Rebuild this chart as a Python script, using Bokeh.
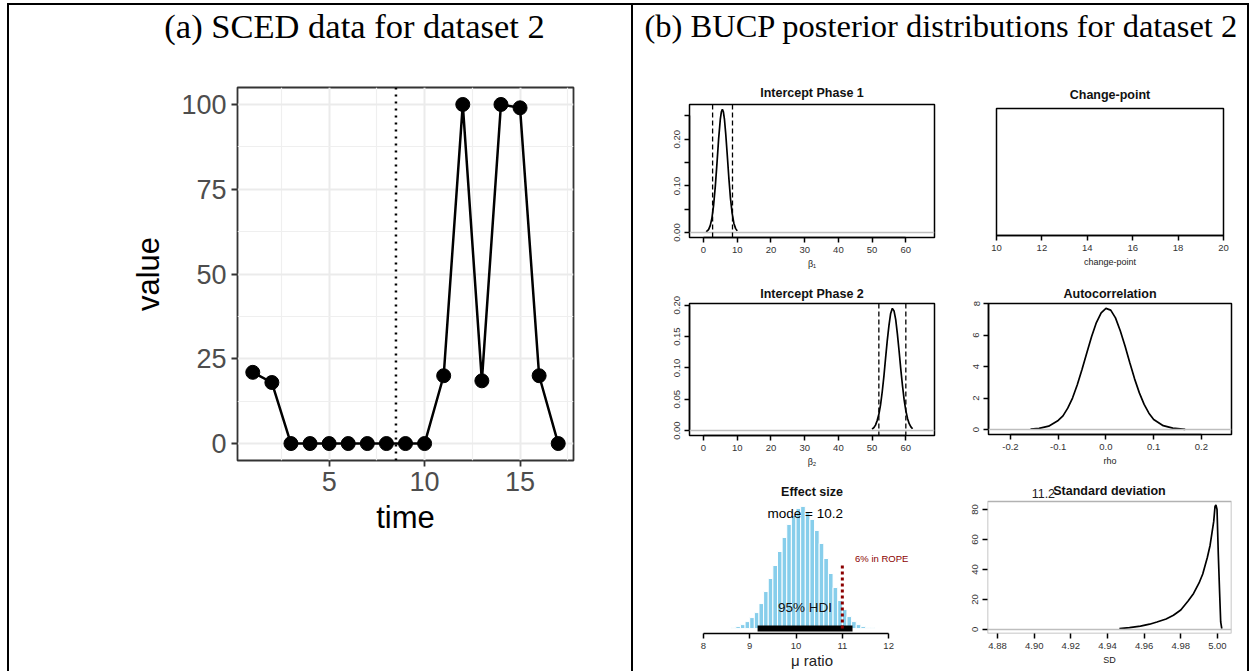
from bokeh.plotting import figure
from bokeh.models import Range1d, FixedTicker, Span, BoxAnnotation, Spacer
from bokeh.layouts import row, column
from bokeh.embed import file_html
from bokeh.resources import INLINE
from bokeh.core.properties import value

SANS = "Liberation Sans"
SERIF = "Liberation Serif"

# ---------------- data ----------------
# (a) SCED data
sced_time = [1, 2, 3, 4, 5, 6, 7, 8, 9, 10, 11, 12, 13, 14, 15, 16, 17]
sced_value = [21, 18, 0, 0, 0, 0, 0, 0, 0, 0, 20, 100, 18.5, 100, 99, 20, 0]
phase_change_time = 8.5
sced_x_ticks = [5, 10, 15]
sced_x_minor = [2.5, 7.5, 12.5, 17.5]
sced_y_ticks = [0, 25, 50, 75, 100]
sced_y_minor = [12.5, 37.5, 62.5, 87.5]

# (b) posterior: Intercept Phase 1
ip1_x = [0.8, 1.5, 2.0, 2.5, 3.0, 3.5, 4.0, 4.5, 5.0, 5.3, 5.6, 5.9, 6.2, 6.6, 7.0, 7.5, 8.0, 8.5, 9.0, 9.5, 10.0]
ip1_y = [0.0016, 0.0063, 0.0148, 0.031, 0.059, 0.099, 0.149, 0.202, 0.244, 0.259, 0.264, 0.259, 0.244,
         0.211, 0.171, 0.119, 0.073, 0.041, 0.020, 0.009, 0.0036]
ip1_hdi = [2.7, 8.6]

# Intercept Phase 2
ip2_x = [50, 50.5, 51, 51.5, 52, 52.5, 53, 53.5, 54, 54.5, 55, 55.5, 56, 56.5, 57, 57.5, 58, 58.5,
         59, 59.5, 60, 60.5, 61, 61.5, 62]
ip2_y = [0.0023, 0.0047, 0.0088, 0.016, 0.026, 0.041, 0.062, 0.087, 0.116, 0.144, 0.168, 0.187, 0.195,
         0.191, 0.177, 0.154, 0.127, 0.098, 0.072, 0.049, 0.032, 0.0195, 0.011, 0.006, 0.003]
ip2_hdi = [52.0, 60.0]
ip_x_ticks = [0, 10, 20, 30, 40, 50, 60]
ip1_y_ticks = [0.0, 0.1, 0.2]
ip1_y_minor = [0.05, 0.15, 0.25]
ip1_y_labels = ["0.00", "0.10", "0.20"]
ip2_y_ticks = [0.0, 0.05, 0.1, 0.15, 0.2]
ip2_y_labels = ["0.00", "0.05", "0.10", "0.15", "0.20"]

# Change-point
cp_ticks = [10, 12, 14, 16, 18, 20]

# Autocorrelation
rho_x = [-0.158, -0.14, -0.12, -0.10, -0.09, -0.08, -0.07, -0.06, -0.05, -0.04, -0.03, -0.02, -0.01,
         0.0, 0.01, 0.02, 0.03, 0.04, 0.05, 0.06, 0.07, 0.08, 0.09, 0.10, 0.12, 0.14, 0.166]
rho_y = [0.03, 0.08, 0.22, 0.58, 0.87, 1.36, 2.0, 2.85, 3.83, 4.88, 5.91, 6.79, 7.41, 7.69, 7.58, 7.09,
         6.27, 5.31, 4.24, 3.22, 2.33, 1.60, 1.04, 0.64, 0.25, 0.09, 0.02]
rho_x_ticks = [-0.2, -0.1, 0.0, 0.1, 0.2]
rho_x_labels = ["-0.2", "-0.1", "0.0", "0.1", "0.2"]
rho_y_ticks = [0, 2, 4, 6, 8]

# Standard deviation
sd_x = [4.9465, 4.952, 4.958, 4.963, 4.967, 4.972, 4.976, 4.980, 4.984, 4.987, 4.990, 4.992, 4.9945,
        4.996, 4.997, 4.998, 4.9987, 4.9992, 4.9998, 5.0005, 5.0012, 5.0018, 5.0024]
sd_y = [0.5, 1.2, 2.2, 3.5, 5.0, 7.0, 9.5, 13, 19, 24, 31, 37, 48, 56, 64, 72, 82, 83, 80, 50, 25, 5, 0.5]
sd_x_ticks = [4.88, 4.90, 4.92, 4.94, 4.96, 4.98, 5.00]
sd_x_labels = ["4.88", "4.90", "4.92", "4.94", "4.96", "4.98", "5.00"]
sd_y_ticks = [0, 20, 40, 60, 80]
sd_hdi_label = "11.2"

# Effect size (histogram of mu ratio)
es_bins = [8.65, 8.75, 8.85, 8.95, 9.05, 9.15, 9.25, 9.35, 9.45, 9.55, 9.65, 9.75, 9.85, 9.95, 10.05,
           10.15, 10.25, 10.35, 10.45, 10.55, 10.65, 10.75, 10.85, 10.95, 11.05, 11.15, 11.25, 11.35,
           11.45, 11.55, 11.65]
es_counts = [1, 2, 4, 7, 11, 16, 25, 37, 50, 63, 77, 91, 104, 113, 120, 122, 117, 109, 98, 85, 70, 55,
             41, 28, 19, 12, 7, 4, 2, 1, 1]
es_mode = 10.2
es_hdi = [9.17, 11.22]
es_rope_line = 11.0
es_rope_pct = 6
es_x_ticks = [8, 9, 10, 11, 12]


# ---------------- helpers ----------------
def title_fig(w, h, text, cx, cy_from_top, size):
    p = figure(width=w, height=h, x_range=Range1d(0, w), y_range=Range1d(0, h),
               output_backend="svg", toolbar_location=None, title=None,
               x_axis_location=None, y_axis_location=None, min_border=0)
    p.frame_align = False
    p.outline_line_color = None
    p.grid.visible = False
    p.text(x=[cx], y=[h - cy_from_top], text=[text], text_font=value(SERIF),
           text_font_size=size, text_align="center", text_baseline="middle", text_color="black")
    return p


def r_fig(w, h, xr, yr, left, right, top, bottom, title, y_axis=True, outline=True, standoff=4):
    p = figure(width=w, height=h, x_range=Range1d(*xr), y_range=Range1d(*yr),
               output_backend="svg", toolbar_location=None, title=title,
               y_axis_location="left" if y_axis else None,
               min_border_left=left, min_border_right=right,
               min_border_top=top, min_border_bottom=bottom)
    p.frame_align = False
    p.grid.visible = False
    p.outline_line_color = "black" if outline else None
    p.outline_line_width = 1.5
    if title is not None:
        p.title.align = "center"
        p.title.text_font = SANS
        p.title.text_font_size = "12.5px"
        p.title.text_font_style = "bold"
        p.title.text_color = "#111111"
        p.title.standoff = standoff
    return p


def r_axis(ax, ticks, labels, bounds, minor=None, vertical=False, label=None,
           label_size="9px", label_standoff=3):
    ax.ticker = FixedTicker(ticks=ticks, minor_ticks=minor if minor else [])
    ax.major_label_overrides = dict(zip(ticks, labels))
    ax.bounds = bounds
    ax.axis_line_color = "black"
    ax.axis_line_width = 1.5
    ax.major_tick_line_color = "black"
    ax.major_tick_line_width = 1.5
    ax.major_tick_out = 5
    ax.major_tick_in = 0
    ax.minor_tick_line_color = "black"
    ax.minor_tick_line_width = 1.5
    ax.minor_tick_out = 5 if minor else 0
    ax.minor_tick_in = 0
    ax.major_label_text_font = SANS
    ax.major_label_text_font_size = "9.5px"
    ax.major_label_text_color = "#333333"
    ax.major_label_standoff = 4
    if vertical:
        ax.major_label_orientation = "vertical"
    if label:
        ax.axis_label = label
        ax.axis_label_text_font = SANS
        ax.axis_label_text_font_size = label_size
        ax.axis_label_text_font_style = "normal"
        ax.axis_label_text_color = "#222222"
        ax.axis_label_standoff = label_standoff


def zero_line(p):
    p.add_layout(Span(location=0, dimension="width", line_color="#BEBEBE", line_width=1.5))


def vline(h):
    return Spacer(width=2, height=h, styles={"background-color": "black"})


# ---------------- (a) SCED plot ----------------
pa = figure(width=622, height=616, x_range=Range1d(0.2, 17.8), y_range=Range1d(-5, 105),
            output_backend="svg", toolbar_location=None, title=None,
            min_border_left=228, min_border_right=58, min_border_top=32, min_border_bottom=211)
pa.frame_align = False
pa.outline_line_color = "#333333"
pa.outline_line_width = 1.8
xa = pa.xaxis[0]
ya = pa.yaxis[0]
xa.ticker = FixedTicker(ticks=sced_x_ticks, minor_ticks=sced_x_minor)
ya.ticker = FixedTicker(ticks=sced_y_ticks, minor_ticks=sced_y_minor)
for ax in (xa, ya):
    ax.axis_line_color = None
    ax.major_tick_line_color = "#333333"
    ax.major_tick_line_width = 1.8
    ax.major_tick_out = 6
    ax.major_tick_in = 0
    ax.minor_tick_line_color = None
    ax.major_label_text_font = SANS
    ax.major_label_text_font_size = "27px"
    ax.major_label_text_color = "#4D4D4D"
    ax.major_label_standoff = 5
    ax.axis_label_text_font = SANS
    ax.axis_label_text_font_size = "31px"
    ax.axis_label_text_font_style = "normal"
    ax.axis_label_text_color = "black"
xa.axis_label = "time"
ya.axis_label = "value"
xa.axis_label_standoff = 6
ya.axis_label_standoff = 12
for g in (pa.xgrid[0], pa.ygrid[0]):
    g.grid_line_color = "#EBEBEB"
    g.grid_line_width = 2
    g.minor_grid_line_color = "#EFEFEF"
    g.minor_grid_line_width = 1.2
pa.add_layout(Span(location=phase_change_time, dimension="height", line_color="black",
                   line_width=2.5, line_dash="2 5"))
pa.line(sced_time, sced_value, line_color="black", line_width=2.5)
pa.scatter(sced_time, sced_value, size=14, fill_color="black", line_color="black")

head_a = title_fig(622, 50, "(a) SCED data for dataset 2", 345, 20, "34.5px")
head_b = title_fig(614, 50, "(b) BUCP posterior distributions for dataset 2", 308, 20, "32.5px")

# ---------------- (b) six posterior panels ----------------
# Intercept Phase 1
p1 = r_fig(307, 222, (-4.15, 68.5), (-0.0106, 0.2746), 56, 6, 49, 40, "Intercept Phase 1", standoff=9)
r_axis(p1.xaxis[0], ip_x_ticks, [str(t) for t in ip_x_ticks], (0, 60), label="\u03b2\u2081")
r_axis(p1.yaxis[0], ip1_y_ticks, ip1_y_labels, (0, 0.25), minor=ip1_y_minor, vertical=True)
zero_line(p1)
p1.line(ip1_x, ip1_y, line_color="black", line_width=1.7)
for v in ip1_hdi:
    p1.add_layout(Span(location=v, dimension="height", line_color="black", line_width=1.3,
                       line_dash="5 3"))

# Change-point
p2 = r_fig(307, 222, (10, 20), (0, 1), 56, 24, 53, 42, "Change-point", y_axis=False, standoff=13)
r_axis(p2.xaxis[0], cp_ticks, [str(t) for t in cp_ticks], (10, 20), label="change-point")

# Intercept Phase 2
p3 = r_fig(307, 198, (-4.15, 68.5), (-0.0078, 0.2028), 56, 6, 26, 40, "Intercept Phase 2", standoff=6)
r_axis(p3.xaxis[0], ip_x_ticks, [str(t) for t in ip_x_ticks], (0, 60), label="\u03b2\u2082")
r_axis(p3.yaxis[0], ip2_y_ticks, ip2_y_labels, (0, 0.2), vertical=True)
zero_line(p3)
p3.line(ip2_x, ip2_y, line_color="black", line_width=1.7)
for v in ip2_hdi:
    p3.add_layout(Span(location=v, dimension="height", line_color="black", line_width=1.3,
                       line_dash="5 3"))

# Autocorrelation
p4 = r_fig(307, 198, (-0.246, 0.263), (-0.31, 8.0), 48, 16, 26, 41, "Autocorrelation", standoff=6)
r_axis(p4.xaxis[0], rho_x_ticks, rho_x_labels, (-0.2, 0.2), label="rho")
r_axis(p4.yaxis[0], rho_y_ticks, [str(t) for t in rho_y_ticks], (0, 8), vertical=True)
zero_line(p4)
p4.line(rho_x, rho_y, line_color="black", line_width=1.7)

# Effect size
es_max = max(es_counts)
p5 = r_fig(307, 196, (7.70, 12.99), (-0.04 * es_max, 1.04 * es_max), 56, 6, 26, 38, "Effect size",
           y_axis=False, outline=False, standoff=5)
r_axis(p5.xaxis[0], es_x_ticks, [str(t) for t in es_x_ticks], (8, 12), label="\u03bc ratio",
       label_size="15px", label_standoff=0)
p5.vbar(x=es_bins, top=es_counts, width=0.1, fill_color="#87CEEB", line_color="white",
        line_width=1)
p5.segment(x0=[es_hdi[0]], y0=[0], x1=[es_hdi[1]], y1=[0], line_color="black", line_width=6)
p5.segment(x0=[es_rope_line], y0=[0], x1=[es_rope_line], y1=[0.52 * es_max],
           line_color="#8B0000", line_width=3, line_dash="3 3")
p5.text(x=[es_mode], y=[0.94 * es_max], text=["mode = %s" % es_mode], text_font=value(SANS),
        text_font_size="13.5px", text_align="center", text_baseline="middle", text_color="black")
p5.text(x=[(es_hdi[0] + es_hdi[1]) / 2], y=[0.17 * es_max], text=["95% HDI"], text_font=value(SANS),
        text_font_size="13.5px", text_align="center", text_baseline="middle", text_color="#111111")
p5.text(x=[11.85], y=[0.57 * es_max], text=["%d%% in ROPE" % es_rope_pct], text_font=value(SANS),
        text_font_size="9.5px", text_align="center", text_baseline="middle", text_color="#8B0000")

# Standard deviation: frame extended upward so that the title row (with the stray "11.2"
# label of the neighbouring panel) is drawn inside it; the R box is a BoxAnnotation.
sd_x_lo, sd_x_hi = 4.8745, 5.0077
sd_y_lo, sd_box_top = -2.7, 85.3
sd_y_hi = 96.63
p6 = r_fig(307, 196, (sd_x_lo, sd_x_hi), (sd_y_lo, sd_y_hi), 47, 16, 9, 38, None, outline=False)
r_axis(p6.xaxis[0], sd_x_ticks, sd_x_labels, (4.88, 5.00), label="SD")
r_axis(p6.yaxis[0], sd_y_ticks, [str(t) for t in sd_y_ticks], (0, 80), vertical=True)
p6.yaxis[0].axis_line_color = None
p6.xaxis[0].axis_line_color = None
p6.add_layout(BoxAnnotation(left=sd_x_lo, right=sd_x_hi, bottom=sd_y_lo, top=sd_box_top,
                            fill_color=None, line_color="black", line_width=1.5))
p6.add_layout(Span(location=0, dimension="width", line_color="#BEBEBE", line_width=1.5))
p6.line(sd_x, sd_y, line_color="black", line_width=1.7)
sd_mid = (sd_x_lo + sd_x_hi) / 2
p6.text(x=[sd_mid], y=[92.0], text=["Standard deviation"], text_font=value(SANS),
        text_font_size="12.5px", text_font_style="bold", text_align="center",
        text_baseline="middle", text_color="#111111")
p6.text(x=[4.905], y=[90.6], text=[sd_hdi_label], text_font=value(SANS),
        text_font_size="12.5px", text_align="center", text_baseline="middle", text_color="#222222")

# ---------------- layout ----------------
left_col = column(head_a, pa)
right_col = column(head_b, row(p1, p2), row(p3, p4), row(p5, p6))
body = row(Spacer(width=7, height=666), vline(666), left_col, vline(666), right_col, vline(666))
top_line = row(Spacer(width=7, height=2), Spacer(width=1242, height=2, styles={"background-color": "black"}))
layout = column(Spacer(width=1249, height=3), top_line, body)

open("out.html", "w").write(file_html(layout, INLINE))
